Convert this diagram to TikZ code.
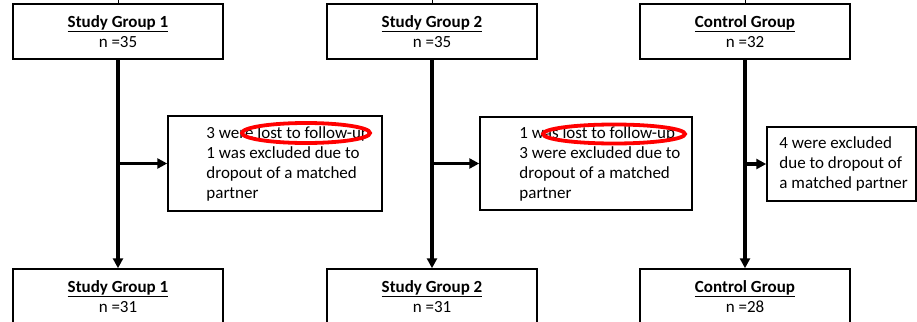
\documentclass[tikz,border=0pt]{standalone}
\usepackage{fontspec}
\setmainfont{Carlito}
\usetikzlibrary{arrows.meta}

\tikzset{
  groupbox/.style={draw,line width=1.5pt,minimum width=210pt,minimum height=55pt,
    align=center,inner sep=0pt,font=\fontsize{17}{20.5}\selectfont},
  dropbox/.style={draw,line width=1.5pt,inner sep=0pt},
  droptext/.style={anchor=west,align=left,inner sep=0pt,font=\fontsize{17}{20}\selectfont},
  flow/.style={line width=3.2pt,-{Triangle[length=10pt,width=10pt]}},
  circled/.style={draw=red,line width=3.8pt}
}

\begin{document}
\begin{tikzpicture}[x=1pt,y=-1pt]
  \useasboundingbox (0,0) rectangle (917,321);
  \clip (0,0) rectangle (917,321);

  % groups at start
  \node[groupbox] (sg1) at (118,31.5) {\textbf{\underline{Study Group 1}}\\n =35};
  \node[groupbox] (sg2) at (432,31.5) {\textbf{\underline{Study Group 2}}\\n =35};
  \node[groupbox] (cg)  at (745,31.5) {\textbf{\underline{Control Group}}\\n =32};

  % groups at end
  \node[groupbox] (sg1end) at (118,296.5) {\textbf{\underline{Study Group 1}}\\n =31};
  \node[groupbox] (sg2end) at (432,296.5) {\textbf{\underline{Study Group 2}}\\n =31};
  \node[groupbox] (cgend)  at (745,296.5) {\textbf{\underline{Control Group}}\\n =28};

  % dropouts
  \node[dropbox,minimum width=214pt,minimum height=95pt] (drop1) at (275,163.5) {};
  \node[droptext] (drop1txt) at ([xshift=39pt]drop1.west)
    {3 were lost to follow-up\\1 was excluded due to\\dropout of a matched\\partner};
  \node[dropbox,minimum width=212pt,minimum height=93pt] (drop2) at (586,163.5) {};
  \node[droptext] (drop2txt) at ([xshift=40pt]drop2.west)
    {1 was lost to follow-up\\3 were excluded due to\\dropout of a matched\\partner};
  \node[dropbox,minimum width=149pt,minimum height=74pt] (drop3) at (841.5,164) {};
  \node[droptext] (drop3txt) at ([xshift=13pt]drop3.west)
    {4 were excluded\\due to dropout of\\a matched partner};

  % stubs from above
  \coordinate (top1) at (118,0);
  \coordinate (top2) at (432,0);
  \coordinate (top3) at (745,0);
  \draw[line width=1pt] (top1) -- (sg1.north);
  \draw[line width=1pt] (top2) -- (sg2.north);
  \draw[line width=1pt] (top3) -- (cg.north);

  \draw[flow] (sg1.south) -- (sg1end.north);
  \draw[flow] (sg2.south) -- (sg2end.north);
  \draw[flow] (cg.south) -- (cgend.north);

  \draw[flow] (sg1.south |- drop1.west) -- (drop1.west);
  \draw[flow] (sg2.south |- drop2.west) -- (drop2.west);
  \draw[flow] (cg.south |- drop3.west) -- (drop3.west);

  % red marks
  \draw[circled] (306,133) ellipse [x radius=64, y radius=10];
  \draw[circled] (614,134) ellipse [x radius=71, y radius=9.5];
\end{tikzpicture}
\end{document}
